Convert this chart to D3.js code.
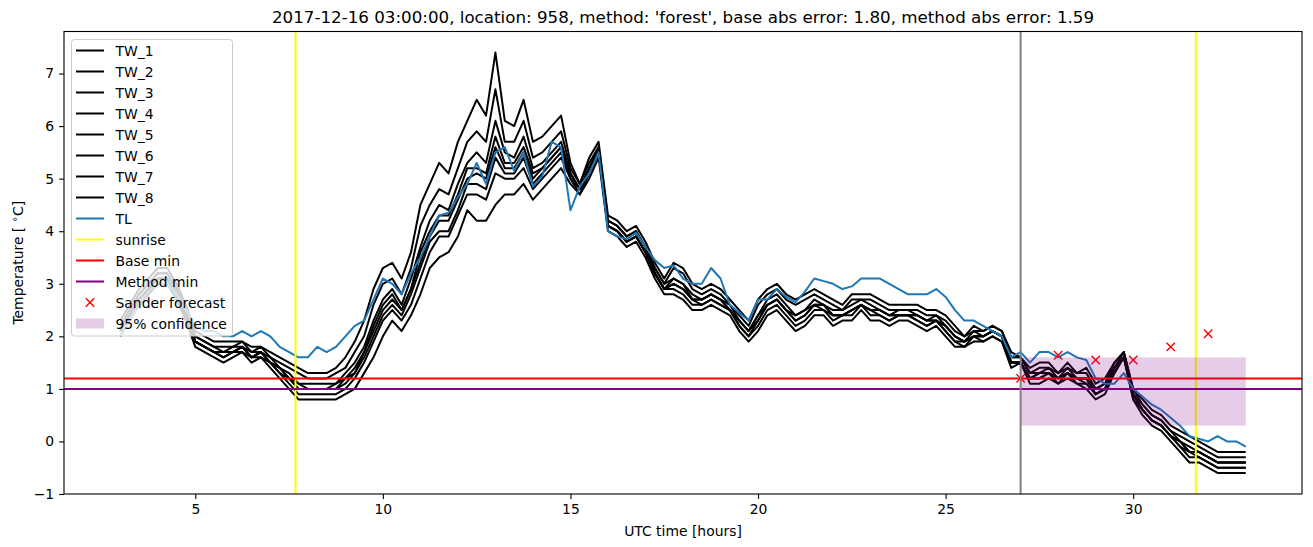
<!DOCTYPE html>
<html>
<head>
<meta charset="utf-8">
<script src="https://cdn.jsdelivr.net/npm/d3@7"></script>
<style>
  body { margin: 0; background: #fff; }
  text { font-family: "DejaVu Sans", sans-serif; }
</style>
</head>
<body>
<div id="chart"></div>
<script>
// ---- данные (шаг 15 минут) ----
const hours = d3.range(3, 33.001, 0.25);

const tl = [2.0,2.3,2.6,2.85,3.0,3.0,2.8,2.5,2.2,2.1, 2.1,2.0,2.0,2.1,2.0,2.1,2.0,1.8,1.7,1.6,
  1.6,1.8,1.7,1.8,2.0,2.2,2.3,2.7,3.1,3.0, 2.8,3.2,3.5,3.9,4.3,4.35,4.65,4.9,5.3,4.9,
  5.5,5.6,5.15,5.5,4.85,5.05,5.7,5.6,4.4,4.85, 5.1,5.5,4.0,3.9,3.85,3.97,3.7,3.45,3.3,3.35,
  3.1,3.0,3.0,3.3,3.1,2.6,2.45,2.3,2.7,2.7, 2.9,2.75,2.65,2.85,3.1,3.05,3.0,2.9,2.95,3.1,
  3.1,3.1,3.0,2.9,2.8,2.8,2.8,2.9,2.75,2.5, 2.3,2.3,2.2,2.1,2.0,1.6,1.7,1.5,1.7,1.7,
  1.6,1.7,1.6,1.55,1.2,1.1,1.1,1.3,1.0,0.85, 0.7,0.6,0.45,0.3,0.1,0.05,0.0,0.1,0.0,0.0,
  -0.1];

const tw1 = [2.3,2.6,2.9,3.1,3.3,3.3,3.0,2.6,2.1,2.0, 1.9,1.9,1.9,1.9,1.8,1.8,1.7,1.6,1.5,1.4,
  1.3,1.3,1.3,1.4,1.6,1.9,2.3,2.9,3.3,3.4, 3.1,3.6,4.5,4.9,5.3,5.1,5.7,6.1,6.5,6.2,
  7.4,6.1,6.0,6.5,5.7,5.8,6.0,6.2,5.3,4.9, 5.4,5.7,4.3,4.2,4.0,4.1,3.8,3.4,3.1,3.4,
  3.3,3.0,2.9,3.0,2.9,2.7,2.5,2.3,2.7,2.9, 3.0,2.8,2.7,2.8,2.9,2.8,2.7,2.6,2.8,2.8,
  2.8,2.7,2.6,2.6,2.6,2.6,2.5,2.5,2.4,2.2, 2.0,2.2,2.1,2.2,2.1,1.7,1.6,1.4,1.5,1.5,
  1.3,1.5,1.3,1.4,1.1,1.2,1.5,1.7,1.0,0.8, 0.6,0.5,0.3,0.2,0.1,0.0,-0.1,-0.2,-0.2,-0.2,
  -0.2];
const tw2 = [2.2,2.5,2.8,3.0,3.2,3.2,2.9,2.5,2.0,1.9, 1.8,1.8,1.8,1.9,1.7,1.8,1.6,1.5,1.4,1.3,
  1.2,1.2,1.2,1.3,1.4,1.7,2.0,2.6,3.0,3.1, 2.8,3.3,4.1,4.5,4.8,4.7,5.2,5.7,5.9,5.7,
  6.7,5.7,5.7,6.1,5.4,5.5,5.7,5.9,5.2,4.9, 5.3,5.6,4.2,4.1,3.9,4.0,3.7,3.3,3.0,3.3,
  3.2,2.9,2.8,2.9,2.8,2.6,2.4,2.2,2.6,2.8, 2.9,2.7,2.6,2.7,2.8,2.7,2.6,2.5,2.7,2.7,
  2.7,2.6,2.5,2.5,2.5,2.5,2.4,2.4,2.3,2.1, 2.0,2.1,2.1,2.2,2.1,1.6,1.6,1.3,1.4,1.4,
  1.3,1.4,1.3,1.3,1.0,1.1,1.5,1.7,1.0,0.7, 0.5,0.4,0.2,0.1,0.0,-0.1,-0.2,-0.3,-0.3,-0.3,
  -0.3];
const tw3 = [2.2,2.5,2.8,3.0,3.2,3.2,2.9,2.5,2.0,1.9, 1.8,1.7,1.8,1.8,1.7,1.7,1.6,1.4,1.3,1.1,
  1.1,1.1,1.1,1.1,1.3,1.5,1.8,2.3,2.7,2.9, 2.6,3.1,3.7,4.2,4.5,4.4,4.9,5.3,5.5,5.3,
  6.1,5.5,5.4,5.8,5.2,5.3,5.5,5.7,5.1,4.8, 5.2,5.6,4.2,4.1,3.9,4.0,3.7,3.3,3.0,3.1,
  3.0,2.8,2.7,2.8,2.7,2.6,2.3,2.1,2.4,2.7, 2.8,2.6,2.4,2.5,2.7,2.6,2.5,2.5,2.6,2.7,
  2.6,2.5,2.4,2.5,2.5,2.4,2.3,2.4,2.2,2.0, 1.9,2.1,2.0,2.1,2.0,1.6,1.6,1.3,1.3,1.4,
  1.2,1.4,1.2,1.2,1.0,1.1,1.4,1.7,0.9,0.7, 0.5,0.4,0.2,0.0,-0.1,-0.2,-0.3,-0.4,-0.4,-0.4,
  -0.4];
const tw4 = [2.1,2.4,2.7,2.9,3.1,3.1,2.8,2.4,1.9,1.8, 1.7,1.7,1.7,1.8,1.6,1.7,1.5,1.4,1.2,1.1,
  1.0,1.0,1.0,1.1,1.2,1.4,1.7,2.2,2.6,2.8, 2.5,2.9,3.6,4.0,4.3,4.3,4.7,5.2,5.2,5.1,
  5.8,5.3,5.3,5.6,5.1,5.2,5.4,5.6,5.1,4.8, 5.2,5.5,4.1,4.0,3.8,3.9,3.6,3.2,2.9,3.1,
  3.0,2.7,2.7,2.8,2.7,2.5,2.3,2.1,2.4,2.6, 2.7,2.5,2.4,2.5,2.6,2.6,2.4,2.4,2.5,2.6,
  2.5,2.5,2.4,2.4,2.4,2.4,2.3,2.3,2.2,2.0, 1.9,2.0,2.0,2.1,2.0,1.5,1.5,1.2,1.3,1.3,
  1.2,1.3,1.2,1.2,0.9,1.0,1.4,1.6,0.9,0.6, 0.4,0.3,0.1,0.0,-0.2,-0.2,-0.3,-0.4,-0.4,-0.4,
  -0.4];
const tw5 = [2.1,2.4,2.7,2.9,3.1,3.1,2.8,2.4,1.9,1.8, 1.7,1.7,1.7,1.8,1.6,1.7,1.5,1.4,1.2,1.0,
  1.0,1.0,1.0,1.0,1.2,1.3,1.7,2.1,2.5,2.7, 2.5,2.9,3.4,3.9,4.2,4.2,4.6,5.0,5.1,5.0,
  5.6,5.2,5.2,5.5,5.0,5.2,5.4,5.6,5.1,4.8, 5.2,5.5,4.1,4.0,3.8,3.9,3.6,3.2,2.9,3.0,
  2.9,2.7,2.7,2.8,2.7,2.5,2.3,2.1,2.3,2.6, 2.7,2.5,2.3,2.4,2.6,2.6,2.4,2.4,2.5,2.6,
  2.5,2.5,2.4,2.4,2.4,2.4,2.3,2.3,2.2,2.0, 1.9,2.0,2.0,2.1,2.0,1.5,1.5,1.2,1.3,1.3,
  1.2,1.3,1.2,1.2,0.9,1.0,1.4,1.6,0.9,0.6, 0.4,0.3,0.1,0.0,-0.2,-0.2,-0.3,-0.4,-0.4,-0.4,
  -0.4];
const tw6 = [2.1,2.4,2.7,2.9,3.1,3.1,2.8,2.4,1.9,1.8, 1.7,1.6,1.7,1.8,1.6,1.7,1.5,1.3,1.2,1.0,
  1.0,1.0,1.0,1.0,1.1,1.3,1.6,2.0,2.4,2.6, 2.4,2.8,3.3,3.8,4.0,4.0,4.4,4.9,4.9,4.8,
  5.4,5.1,5.1,5.4,4.9,5.1,5.3,5.5,5.0,4.8, 5.1,5.5,4.1,4.0,3.8,3.9,3.6,3.2,2.9,3.0,
  2.9,2.7,2.6,2.7,2.6,2.5,2.2,2.0,2.3,2.6, 2.7,2.5,2.3,2.4,2.6,2.5,2.4,2.4,2.5,2.6,
  2.5,2.4,2.3,2.4,2.4,2.3,2.2,2.3,2.1,1.9, 1.9,2.0,2.0,2.1,2.0,1.5,1.5,1.2,1.2,1.3,
  1.2,1.3,1.2,1.1,0.9,1.0,1.4,1.6,0.9,0.6, 0.4,0.3,0.1,-0.1,-0.2,-0.3,-0.4,-0.5,-0.5,-0.5,
  -0.5];
const tw7 = [2.1,2.4,2.7,2.9,3.1,3.1,2.8,2.4,1.9,1.8, 1.7,1.6,1.7,1.7,1.6,1.6,1.5,1.3,1.1,0.9,
  0.9,0.9,0.9,0.9,1.0,1.2,1.5,1.9,2.3,2.5, 2.3,2.6,3.1,3.6,3.9,3.9,4.3,4.7,4.7,4.6,
  5.1,5.0,5.0,5.2,4.8,5.0,5.2,5.4,5.0,4.7, 5.1,5.5,4.1,4.0,3.8,3.9,3.6,3.2,2.9,2.9,
  2.8,2.6,2.6,2.7,2.6,2.5,2.2,2.0,2.2,2.5, 2.6,2.4,2.2,2.3,2.5,2.5,2.3,2.4,2.4,2.6,
  2.4,2.4,2.3,2.4,2.4,2.3,2.2,2.3,2.1,1.9, 1.8,2.0,1.9,2.0,1.9,1.5,1.5,1.2,1.2,1.3,
  1.1,1.3,1.1,1.1,0.9,1.0,1.3,1.6,0.8,0.6, 0.4,0.3,0.1,-0.1,-0.3,-0.3,-0.4,-0.5,-0.5,-0.5,
  -0.5];
const tw8 = [2.0,2.3,2.6,2.8,3.0,3.0,2.7,2.3,1.8,1.7, 1.6,1.5,1.6,1.7,1.5,1.6,1.4,1.2,1.0,0.8,
  0.8,0.8,0.8,0.8,0.9,1.0,1.3,1.6,2.0,2.3, 2.1,2.4,2.8,3.3,3.5,3.6,3.9,4.4,4.2,4.2,
  4.5,4.7,4.7,4.9,4.6,4.8,5.0,5.2,4.9,4.7, 5.0,5.4,4.0,3.9,3.7,3.8,3.5,3.1,2.8,2.8,
  2.7,2.5,2.5,2.6,2.5,2.4,2.1,1.9,2.1,2.4, 2.5,2.3,2.1,2.2,2.4,2.4,2.2,2.3,2.3,2.5,
  2.3,2.3,2.2,2.3,2.3,2.2,2.1,2.2,2.0,1.8, 1.8,1.9,1.9,2.0,1.9,1.4,1.5,1.1,1.1,1.2,
  1.1,1.2,1.1,1.0,0.8,0.9,1.3,1.6,0.8,0.5, 0.3,0.2,0.0,-0.2,-0.4,-0.4,-0.5,-0.6,-0.6,-0.6,
  -0.6];

const twNames = ["TW_1", "TW_2", "TW_3", "TW_4", "TW_5", "TW_6", "TW_7", "TW_8"];
const twSeries = [tw1, tw2, tw3, tw4, tw5, tw6, tw7, tw8];

const sunriseHours = [7.67, 31.67];
const forecastStart = 27;
const baseMin = 1.2;
const methodMin = 1.0;
const forecastHours = [27, 28, 29, 30, 31, 32];
const forecastValues = [1.2, 1.64, 1.55, 1.55, 1.8, 2.05];
const confHours = [27, 33];
const confLow = 0.3, confHigh = 1.6;

const xTicks = [5, 10, 15, 20, 25, 30];
const yTicks = [-1, 0, 1, 2, 3, 4, 5, 6, 7];

const title = "2017-12-16 03:00:00, location: 958, method: 'forest', base abs error: 1.80, method abs error: 1.59";

// ---- размеры ----
const W = 1313, H = 547;
const margin = { top: 31.5, right: 11, bottom: 53, left: 64 },
      width = W - margin.left - margin.right,
      height = H - margin.top - margin.bottom;

const svg = d3.select("#chart").append("svg")
  .attr("width", W).attr("height", H);

const g = svg.append("g")
  .attr("transform", `translate(${margin.left},${margin.top})`);

const x = d3.scaleLinear().domain([1.5, 34.5]).range([0, width]);
const y = d3.scaleLinear().domain([-1, 7.8]).range([height, 0]);

const clip = svg.append("defs").append("clipPath").attr("id", "plot")
  .append("rect").attr("width", width).attr("height", height);

const plot = g.append("g").attr("clip-path", "url(#plot)");

const line = d3.line().x((d, i) => x(hours[i])).y(d => y(d));

// TW линии
twSeries.forEach(s => {
  plot.append("path").datum(s)
    .attr("d", line)
    .attr("fill", "none")
    .attr("stroke", "#000")
    .attr("stroke-width", 2)
    .attr("stroke-linejoin", "round");
});

// TL
plot.append("path").datum(tl)
  .attr("d", line)
  .attr("fill", "none")
  .attr("stroke", "#1f77b4")
  .attr("stroke-width", 2)
  .attr("stroke-linejoin", "round");

// восход
sunriseHours.forEach(h => {
  plot.append("line")
    .attr("x1", x(h)).attr("x2", x(h))
    .attr("y1", 0).attr("y2", height)
    .attr("stroke", "#ffff00").attr("stroke-width", 2);
});

// минимумы
[[baseMin, "#ff0000"], [methodMin, "#800080"]].forEach(([v, c]) => {
  plot.append("line")
    .attr("x1", 0).attr("x2", width)
    .attr("y1", y(v)).attr("y2", y(v))
    .attr("stroke", c).attr("stroke-width", 2);
});

// прогноз Sander
const cross = (sel, cx, cy, r) => {
  sel.append("path")
    .attr("d", `M${cx - r},${cy - r}L${cx + r},${cy + r}M${cx - r},${cy + r}L${cx + r},${cy - r}`)
    .attr("stroke", "#ff0000").attr("stroke-width", 1.4).attr("fill", "none");
};
forecastHours.forEach((h, i) => cross(plot, x(h), y(forecastValues[i]), 4.2));

// 95% доверительный интервал
plot.append("rect")
  .attr("x", x(confHours[0]))
  .attr("width", x(confHours[1]) - x(confHours[0]))
  .attr("y", y(confHigh))
  .attr("height", y(confLow) - y(confHigh))
  .attr("fill", "#800080").attr("fill-opacity", 0.2);

// момент прогноза
plot.append("line")
  .attr("x1", x(forecastStart)).attr("x2", x(forecastStart))
  .attr("y1", 0).attr("y2", height)
  .attr("stroke", "#808080").attr("stroke-width", 2);

// оси
const xAxis = d3.axisBottom(x).tickValues(xTicks).tickSize(4.9).tickPadding(4.9);
const yAxis = d3.axisLeft(y).tickValues(yTicks).tickSize(4.9).tickPadding(4.9);

const gx = g.append("g").attr("transform", `translate(0,${height})`).call(xAxis);
const gy = g.append("g").call(yAxis);
[gx, gy].forEach(a => {
  a.select(".domain").remove();
  a.selectAll(".tick line").attr("stroke", "#000").attr("stroke-width", 1.1);
  a.selectAll(".tick text").attr("fill", "#000")
    .style("font-size", "13.9px").style("font-family", "DejaVu Sans");
});

// рамка
g.append("rect")
  .attr("width", width).attr("height", height)
  .attr("fill", "none").attr("stroke", "#000").attr("stroke-width", 1.1);

// подписи
svg.append("text")
  .attr("x", margin.left + width / 2).attr("y", 23)
  .attr("text-anchor", "middle")
  .style("font-size", "16.7px")
  .text(title);

svg.append("text")
  .attr("x", margin.left + width / 2).attr("y", 536)
  .attr("text-anchor", "middle")
  .style("font-size", "13.9px")
  .text("UTC time [hours]");

const yl = svg.append("text")
  .attr("transform", `translate(23,${margin.top + height / 2}) rotate(-90)`)
  .attr("text-anchor", "middle")
  .style("font-size", "13.9px");
yl.append("tspan").text("Temperature [ ");
yl.append("tspan").attr("dy", -5).style("font-size", "10px").text("∘");
yl.append("tspan").attr("dy", 5).text("C]");

// легенда
const legendItems = twNames.map(n => ({ label: n, kind: "line", color: "#000" }))
  .concat([
    { label: "TL", kind: "line", color: "#1f77b4" },
    { label: "sunrise", kind: "line", color: "#ffff00" },
    { label: "Base min", kind: "line", color: "#ff0000" },
    { label: "Method min", kind: "line", color: "#800080" },
    { label: "Sander forecast", kind: "cross", color: "#ff0000" },
    { label: "95% confidence", kind: "patch", color: "#800080" }
  ]);

const lg = svg.append("g");
lg.append("rect")
  .attr("x", 71.5).attr("y", 39.5)
  .attr("width", 161).attr("height", 296.5)
  .attr("rx", 3)
  .attr("fill", "#fff").attr("fill-opacity", 0.8)
  .attr("stroke", "#cccccc").attr("stroke-width", 1);

legendItems.forEach((d, i) => {
  const cy = 50.5 + i * 21.0;
  if (d.kind === "line") {
    lg.append("line")
      .attr("x1", 76).attr("x2", 104)
      .attr("y1", cy).attr("y2", cy)
      .attr("stroke", d.color).attr("stroke-width", 2);
  } else if (d.kind === "cross") {
    cross(lg, 90, cy, 4.2);
  } else {
    lg.append("rect")
      .attr("x", 76).attr("y", cy - 5)
      .attr("width", 28).attr("height", 10)
      .attr("fill", d.color).attr("fill-opacity", 0.2);
  }
  lg.append("text")
    .attr("x", 115.5).attr("y", cy)
    .attr("dy", "0.36em")
    .style("font-size", "13.9px")
    .text(d.label);
});
</script>
</body>
</html>
